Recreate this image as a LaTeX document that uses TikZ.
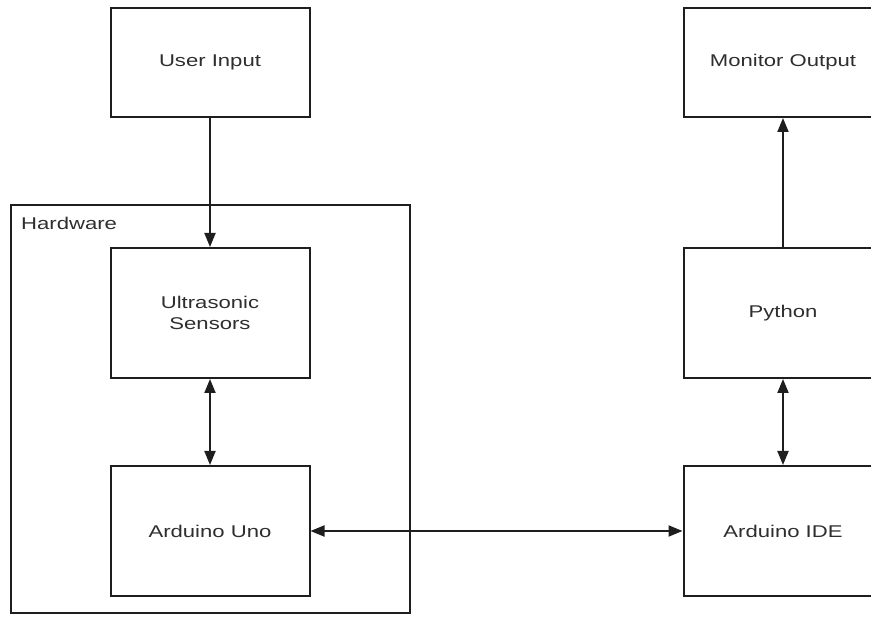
\documentclass[tikz,border=0pt]{standalone}
\usepackage{fontspec}
\setmainfont[FakeStretch=1.3]{Liberation Sans}
\usetikzlibrary{arrows.meta}
\definecolor{ln}{HTML}{1E1E1E}
\definecolor{tx}{HTML}{2E2E2E}
\tikzset{
  blk/.style={draw=ln, line width=2pt, minimum width=199pt, minimum height=130pt, inner sep=0pt, align=center, font=\fontsize{17}{21}\selectfont, text=tx},
  cont/.style={draw=ln, line width=2pt},
  tip/.style={Triangle[length=14pt,width=11pt]},
  arr/.style={draw=ln, line width=2pt, -{Triangle[length=14pt,width=11pt]}},
  darr/.style={draw=ln, line width=2pt, {Triangle[length=14pt,width=11pt]}-{Triangle[length=14pt,width=11pt]}},
}
\begin{document}
\begin{tikzpicture}[x=1pt,y=-1pt]
\useasboundingbox (0,0) rectangle (871,617);
\clip (0,0) rectangle (871,617);
\draw[cont] (11,205) rectangle (410,613);
\node[anchor=west, font=\fontsize{17}{21}\selectfont, text=tx, inner sep=0pt] (hw) at (21,223) {Hardware};
\node[blk, minimum height=109pt] (ui) at (210,62.5) {User Input};
\node[blk, minimum height=109pt] (mo) at (783,62.5) {Monitor Output};
\node[blk] (us) at (210,313) {Ultrasonic\\Sensors};
\node[blk] (uno) at (210,531) {Arduino Uno};
\node[blk] (py) at (783,313) {Python};
\node[blk] (ide) at (783,531) {Arduino IDE};
\draw[arr] (ui) -- (us);
\draw[arr] (py) -- (mo);
\draw[darr] (us) -- (uno);
\draw[darr] (py) -- (ide);
\draw[darr] (uno) -- (ide);
\end{tikzpicture}
\end{document}
